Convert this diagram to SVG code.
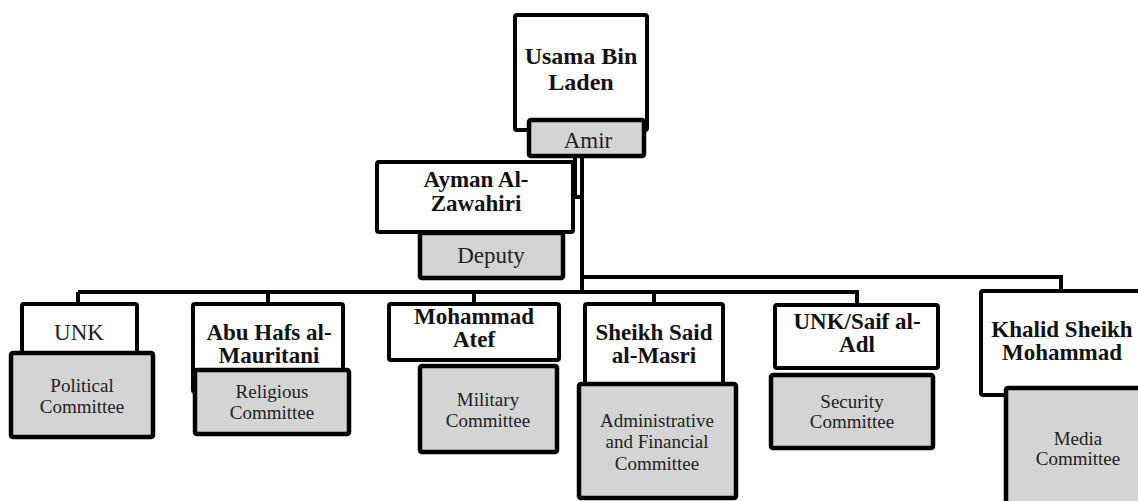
<svg xmlns="http://www.w3.org/2000/svg" width="1138" height="501" viewBox="0 0 1138 501">
<style>
.n{fill:#fff;stroke:#000;stroke-width:4}
.c{fill:#d4d4d4;stroke:#000;stroke-width:4.5}
.b{font-family:"Liberation Serif","Times New Roman",serif;font-weight:bold;font-size:23px;text-anchor:middle;fill:#111}
.r{font-family:"Liberation Serif","Times New Roman",serif;font-size:23px;text-anchor:middle;fill:#222}
.s{font-family:"Liberation Serif","Times New Roman",serif;font-size:19px;text-anchor:middle;fill:#222}
.l{fill:none;stroke:#000;stroke-width:4}
</style>
<rect width="1138" height="501" fill="#fff"/>
<g id="connectors">
<path class="l" d="M575,157 V197 H582"/>
<path class="l" d="M582,157 V292"/>
<path class="l" d="M582,277 H1061 V292"/>
<path class="l" d="M78,292 H857 V305"/>
<path class="l" d="M78,292 V304 M268,292 V304 M474,292 V304 M654,292 V304"/>
</g>
<g id="usama">
<rect class="n" x="515" y="15" width="132" height="115" rx="2"/>
<rect class="c" x="529" y="120" width="115" height="36" rx="2"/>
<text class="b" x="581" y="64" style="font-size:24px">Usama Bin</text>
<text class="b" x="581" y="90" style="font-size:24px">Laden</text>
<text class="r" x="588" y="148">Amir</text>
</g>
<g id="ayman">
<rect class="n" x="377" y="162" width="196" height="70" rx="2"/>
<rect class="c" x="420" y="233" width="143" height="45" rx="2"/>
<text class="b" x="476" y="187">Ayman Al-</text>
<text class="b" x="476" y="211">Zawahiri</text>
<text class="r" x="491" y="263">Deputy</text>
</g>
<g id="unk">
<rect class="n" x="22" y="304" width="115" height="50" rx="2"/>
<rect class="c" x="11" y="353" width="142" height="84" rx="2"/>
<text class="r" x="79" y="340">UNK</text>
<text class="s" x="82" y="392">Political</text>
<text class="s" x="82" y="413">Committee</text>
</g>
<g id="abuhafs">
<rect class="n" x="193" y="304" width="150" height="88" rx="2"/>
<rect class="c" x="195" y="370" width="154" height="64" rx="2"/>
<text class="b" x="269" y="340">Abu Hafs al-</text>
<text class="b" x="269" y="363">Mauritani</text>
<text class="s" x="272" y="398">Religious</text>
<text class="s" x="272" y="419">Committee</text>
</g>
<g id="atef">
<rect class="n" x="389" y="304" width="170" height="56" rx="2"/>
<rect class="c" x="420" y="366" width="137" height="86" rx="2"/>
<text class="b" x="474" y="324">Mohammad</text>
<text class="b" x="474" y="347">Atef</text>
<text class="s" x="488" y="406">Military</text>
<text class="s" x="488" y="427">Committee</text>
</g>
<g id="masri">
<rect class="n" x="585" y="304" width="138" height="80" rx="2"/>
<rect class="c" x="579" y="384" width="157" height="114" rx="2"/>
<text class="b" x="654" y="340">Sheikh Said</text>
<text class="b" x="654" y="363">al-Masri</text>
<text class="s" x="657" y="427">Administrative</text>
<text class="s" x="657" y="448">and Financial</text>
<text class="s" x="657" y="470">Committee</text>
</g>
<g id="saif">
<rect class="n" x="775" y="305" width="163" height="63" rx="2"/>
<rect class="c" x="771" y="375" width="162" height="73" rx="2"/>
<text class="b" x="857" y="329">UNK/Saif al-</text>
<text class="b" x="857" y="352">Adl</text>
<text class="s" x="852" y="408">Security</text>
<text class="s" x="852" y="428">Committee</text>
</g>
<g id="khalid">
<rect class="n" x="981" y="291" width="170" height="104" rx="2"/>
<rect class="c" x="1006" y="388" width="150" height="130" rx="2"/>
<text class="b" x="1062" y="337">Khalid Sheikh</text>
<text class="b" x="1062" y="360">Mohammad</text>
<text class="s" x="1078" y="445">Media</text>
<text class="s" x="1078" y="465">Committee</text>
</g>
</svg>
